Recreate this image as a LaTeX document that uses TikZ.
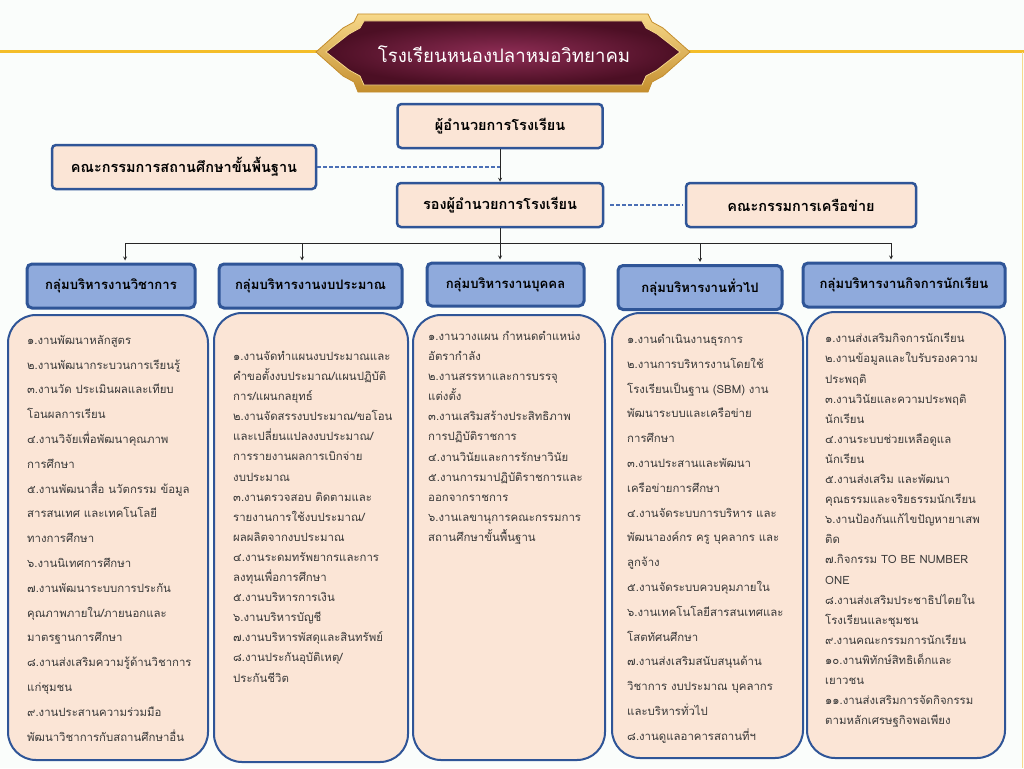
\documentclass[tikz,border=0pt]{standalone}
\usepackage{fontspec}
\newfontfamily\thaifont[Script=Thai]{Loma}
\usetikzlibrary{arrows}
\definecolor{bgcol}{HTML}{FAFDFB}
\definecolor{goldline}{HTML}{F4BE2A}
\definecolor{goldlight}{HTML}{F7D98A}
\definecolor{golddark}{HTML}{C48E2E}
\definecolor{maroonlight}{HTML}{8E2D55}
\definecolor{maroondark}{HTML}{4C0F24}
\definecolor{peach}{HTML}{FBE5D6}
\definecolor{boxblue}{HTML}{2F5597}
\definecolor{groupblue}{HTML}{8FAADC}
\definecolor{dashblue}{HTML}{4A6FB5}
\definecolor{listgray}{HTML}{3A3A3A}
\tikzstyle{titletext} = [text=white, font=\thaifont\fontsize{18.6}{22}\selectfont]
\tikzstyle{topbox} = [rectangle, rounded corners=4pt, draw=boxblue, line width=2.5pt, fill=peach, text centered, minimum height=44pt, font=\thaifont\fontsize{14.5}{16}\selectfont\bfseries]
\tikzstyle{groupbox} = [rectangle, rounded corners=5pt, draw=boxblue, line width=3pt, fill=groupblue, text centered, minimum height=44pt, font=\thaifont\fontsize{13.1}{15}\selectfont\bfseries]
\tikzstyle{listbox} = [rectangle, rounded corners=28pt, draw=boxblue, line width=2pt, fill=peach]
\tikzstyle{listtext} = [anchor=north west, align=left, inner sep=0pt, text=listgray, font=\thaifont\fontsize{11.4}{20.1}\selectfont]
\tikzstyle{widetext} = [anchor=north west, align=left, inner sep=0pt, text=listgray, font=\thaifont\fontsize{11.4}{24.8}\selectfont]
\tikzstyle{arrow} = [->, >=stealth, line width=0.8pt, draw=black!85]
\tikzstyle{dashline} = [dashed, dash pattern=on 4pt off 2pt, line width=2pt, draw=dashblue]
\begin{document}
\begin{tikzpicture}[x=1pt, y=-1pt]
\useasboundingbox (0,0) rectangle (1024,768);
\fill [bgcol] (0,0) rectangle (1024,768);
\draw [goldline, line width=3pt] (0,52) -- (1024,52);
\draw [goldlight, line width=1pt] (1022,52) -- (1022,768);

\shade [top color=goldlight, bottom color=golddark, draw=golddark, line width=0.8pt] (358,14) -- (648,14) -- (652,22) -- (663,28) -- (690,52) -- (663,76) -- (652,82) -- (648,92) -- (358,92) -- (354,82) -- (343,76) -- (316,52) -- (343,28) -- (354,22) -- cycle;
\shade [inner color=maroonlight, outer color=maroondark, draw=goldlight, line width=0.8pt] (364,21) -- (642,21) -- (646,28) -- (657,34) -- (680,52) -- (657,70) -- (646,76) -- (642,85) -- (364,85) -- (360,76) -- (349,70) -- (326,52) -- (349,34) -- (360,28) -- cycle;
\node [titletext] (title) at (504,54) {โรงเรียนหนองปลาหมอวิทยาคม};

\node [topbox, minimum width=205pt] at (500,126) (director) {ผู้อำนวยการโรงเรียน};
\node [topbox, minimum width=264pt] at (184,167) (committee) {คณะกรรมการสถานศึกษาขั้นพื้นฐาน};
\node [topbox, minimum width=206pt] at (500,205) (deputy) {รองผู้อำนวยการโรงเรียน};
\node [topbox, minimum width=230pt] at (801,205) (network) {คณะกรรมการเครือข่าย};

\node [groupbox, minimum width=168pt] at (111,286) (academic) {กลุ่มบริหารงานวิชาการ};
\node [groupbox, minimum width=183pt] at (310.5,286) (budget) {กลุ่มบริหารงานงบประมาณ};
\node [groupbox, minimum width=157pt, minimum height=43pt] at (505.5,284.5) (personnel) {กลุ่มบริหารงานบุคคล};
\node [groupbox, minimum width=164pt] at (700,287.5) (general) {กลุ่มบริหารงานทั่วไป};
\node [groupbox, minimum width=202pt] at (904,285) (student) {กลุ่มบริหารงานกิจการนักเรียน};

\node [listbox, minimum width=200pt, minimum height=445pt] at (108,537.5) (academiclist) {};
\node [listbox, minimum width=194pt, minimum height=449pt] at (311,537.5) (budgetlist) {};
\node [listbox, minimum width=192pt, minimum height=445pt] at (509,537.5) (personnellist) {};
\node [listbox, minimum width=191pt, minimum height=445pt] at (707.5,535.5) (generallist) {};
\node [listbox, minimum width=198pt, minimum height=446pt] at (906,535) (studentlist) {};

\node [widetext] at (27,335) (academictext) {๑.งานพัฒนาหลักสูตร\\๒.งานพัฒนากระบวนการเรียนรู้\\๓.งานวัด ประเมินผลและเทียบ\\โอนผลการเรียน\\๔.งานวิจัยเพื่อพัฒนาคุณภาพ\\การศึกษา\\๕.งานพัฒนาสื่อ นวัตกรรม ข้อมูล\\สารสนเทศ และเทคโนโลยี\\ทางการศึกษา\\๖.งานนิเทศการศึกษา\\๗.งานพัฒนาระบบการประกัน\\คุณภาพภายใน/ภายนอกและ\\มาตรฐานการศึกษา\\๘.งานส่งเสริมความรู้ด้านวิชาการ\\แก่ชุมชน\\๙.งานประสานความร่วมมือ\\พัฒนาวิชาการกับสถานศึกษาอื่น};
\node [listtext] at (233,351) (budgettext) {๑.งานจัดทำแผนงบประมาณและ\\คำขอตั้งงบประมาณ/แผนปฏิบัติ\\การ/แผนกลยุทธ์\\๒.งานจัดสรรงบประมาณ/ขอโอน\\และเปลี่ยนแปลงงบประมาณ/\\การรายงานผลการเบิกจ่าย\\งบประมาณ\\๓.งานตรวจสอบ ติดตามและ\\รายงานการใช้งบประมาณ/\\ผลผลิตจากงบประมาณ\\๔.งานระดมทรัพยากรและการ\\ลงทุนเพื่อการศึกษา\\๕.งานบริหารการเงิน\\๖.งานบริหารบัญชี\\๗.งานบริหารพัสดุและสินทรัพย์\\๘.งานประกันอุบัติเหตุ/\\ประกันชีวิต};
\node [listtext] at (428,331) (personneltext) {๑.งานวางแผน กำหนดตำแหน่ง\\อัตรากำลัง\\๒.งานสรรหาและการบรรจุ\\แต่งตั้ง\\๓.งานเสริมสร้างประสิทธิภาพ\\การปฏิบัติราชการ\\๔.งานวินัยและการรักษาวินัย\\๕.งานการมาปฏิบัติราชการและ\\ออกจากราชการ\\๖.งานเลขานุการคณะกรรมการ\\สถานศึกษาขั้นพื้นฐาน};
\node [widetext] at (627,334) (generaltext) {๑.งานดำเนินงานธุรการ\\๒.งานการบริหารงานโดยใช้\\โรงเรียนเป็นฐาน (SBM) งาน\\พัฒนาระบบและเครือข่าย\\การศึกษา\\๓.งานประสานและพัฒนา\\เครือข่ายการศึกษา\\๔.งานจัดระบบการบริหาร และ\\พัฒนาองค์กร ครู บุคลากร และ\\ลูกจ้าง\\๕.งานจัดระบบควบคุมภายใน\\๖.งานเทคโนโลยีสารสนเทศและ\\โสตทัศนศึกษา\\๗.งานส่งเสริมสนับสนุนด้าน\\วิชาการ งบประมาณ บุคลากร\\และบริหารทั่วไป\\๘.งานดูแลอาคารสถานที่ฯ};
\node [listtext] at (825,333) (studenttext) {๑.งานส่งเสริมกิจการนักเรียน\\๒.งานข้อมูลและใบรับรองความ\\ประพฤติ\\๓.งานวินัยและความประพฤติ\\นักเรียน\\๔.งานระบบช่วยเหลือดูแล\\นักเรียน\\๕.งานส่งเสริม และพัฒนา\\คุณธรรมและจริยธรรมนักเรียน\\๖.งานป้องกันแก้ไขปัญหายาเสพ\\ติด\\๗.กิจกรรม TO BE NUMBER\\ONE\\๘.งานส่งเสริมประชาธิปไตยใน\\โรงเรียนและชุมชน\\๙.งานคณะกรรมการนักเรียน\\๑๐.งานพิทักษ์สิทธิเด็กและ\\เยาวชน\\๑๑.งานส่งเสริมการจัดกิจกรรม\\ตามหลักเศรษฐกิจพอเพียง};

\coordinate (bus) at (500,243);
\draw [arrow] (director) -- (deputy);
\draw [dashline] (committee) -- (committee -| deputy);
\draw [dashline, shorten <=6pt, shorten >=2pt] (deputy) -- (network);
\draw [arrow, shorten >=2pt] (deputy) -- (deputy |- personnel.north);
\draw [arrow, shorten >=2pt] (bus) -| ([xshift=14pt]academic.north);
\draw [arrow, shorten >=2pt] (bus) -| ([xshift=-8.5pt]budget.north);
\draw [arrow, shorten >=2pt] (bus) -| (general.north);
\draw [arrow, shorten >=2pt] (bus) -| ([xshift=-13pt]student.north);
\end{tikzpicture}
\end{document}
